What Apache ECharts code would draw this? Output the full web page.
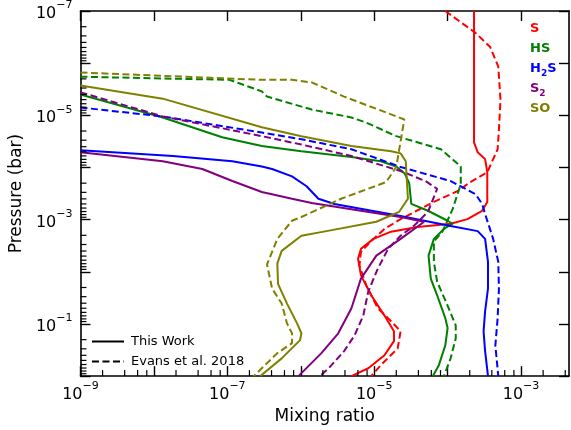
<!DOCTYPE html>
<html>
<head>
<meta charset="utf-8">
<script src="https://cdn.jsdelivr.net/npm/echarts@6/dist/echarts.min.js"></script>
<style>
  html, body { margin: 0; padding: 0; background: #fff; }
  #chart { width: 571px; height: 430px; }
</style>
</head>
<body>
<div id="chart"></div>
<script>
// profiles as [mixing ratio, pressure (bar)]
var sThisWork = [[2.29e-4,1e-7],[2.29e-4,3.31e-5],[2.57e-4,5.13e-5],[3.24e-4,6.92e-5],[3.47e-4,1.23e-4],[3.47e-4,4.57e-4],[2.95e-4,6.76e-4],[1.86e-4,9.77e-4],[1.10e-4,1.20e-3],[3.89e-5,1.38e-3],[1.70e-5,1.70e-3],[9.77e-6,2.34e-3],[6.61e-6,3.63e-3],[6.03e-6,5.62e-3],[6.61e-6,1.17e-2],[9.12e-6,2.82e-2],[1.38e-5,6.92e-2],[1.86e-5,0.138],[1.86e-5,0.214],[1.38e-5,0.398],[8.32e-6,0.708],[4.90e-6,1]];
var sEvans = [[9.3e-5,1e-7],[2.4e-4,2.63e-7],[3.8e-4,4.9e-7],[4.9e-4,1.17e-6],[5.25e-4,5.0e-6],[5.0e-4,1.86e-5],[4.8e-4,4.47e-5],[3.47e-4,1.23e-4],[2.04e-4,1.91e-4],[1.38e-4,2.82e-4],[6.5e-5,4.57e-4],[2.29e-5,9.77e-4],[1.38e-5,1.51e-3],[9.1e-6,2.57e-3],[6.6e-6,4.17e-3],[6.3e-6,7.6e-3],[7.8e-6,1.82e-2],[1.12e-5,5.0e-2],[1.7e-5,8.9e-2],[2.29e-5,0.138],[2.09e-5,0.295],[1.23e-5,0.617],[9.1e-6,1]];

var hsThisWork = [[1e-9,3.98e-6],[1.32e-8,1.1e-5],[8.5e-8,2.63e-5],[2.95e-7,3.89e-5],[1.02e-6,4.9e-5],[4.9e-6,6.31e-5],[1.23e-5,7.59e-5],[2.0e-5,9.55e-5],[2.6e-5,1.3e-4],[3.0e-5,2.0e-4],[3.2e-5,5.0e-4],[5.4e-5,6.76e-4],[1.0e-4,1.05e-3],[1.17e-4,1.2e-3],[8.9e-5,1.51e-3],[6.5e-5,2.34e-3],[5.5e-5,4.9e-3],[5.9e-5,1.35e-2],[7.2e-5,2.82e-2],[9.3e-5,7.76e-2],[1.0e-4,0.12],[9.3e-5,0.257],[7.6e-5,0.617],[6.3e-5,1]];
var hsEvans = [[1e-9,1.82e-6],[1.07e-7,2.09e-6],[2.95e-7,3.47e-6],[3.47e-7,4.37e-6],[1.41e-6,7.76e-6],[4.9e-6,1.1e-5],[7.8e-6,1.38e-5],[2.0e-5,2.51e-5],[8.1e-5,4.47e-5],[1.51e-4,9.55e-5],[1.51e-4,2.09e-4],[1.17e-4,6.31e-4],[8.5e-5,1.7e-3],[6.5e-5,2.63e-3],[6.5e-5,6.46e-3],[7.2e-5,1.55e-2],[1.0e-4,4.47e-2],[1.29e-4,0.107],[1.29e-4,0.191],[1.1e-4,0.457],[8.9e-5,1]];

var h2sThisWork = [[1e-9,4.68e-5],[1.82e-8,6.03e-5],[1.17e-7,7.59e-5],[2.95e-7,9.55e-5],[4.07e-7,1.07e-4],[7.6e-7,1.48e-4],[1.2e-6,2.29e-4],[1.74e-6,3.98e-4],[2.88e-6,5.0e-4],[2.29e-5,8.5e-4],[1.1e-4,1.32e-3],[2.57e-4,1.66e-3],[3.24e-4,2.34e-3],[3.55e-4,6.46e-3],[3.55e-4,2.09e-2],[3.24e-4,5.75e-2],[3.09e-4,0.138],[3.24e-4,0.331],[3.55e-4,1]];
var h2sEvans = [[1e-9,7.08e-6],[1.32e-8,1.05e-5],[2.95e-7,2.14e-5],[1.02e-6,2.88e-5],[4.9e-6,4.47e-5],[2.29e-5,9.77e-5],[1.1e-4,1.82e-4],[2.4e-4,3.24e-4],[2.95e-4,5.0e-4],[3.24e-4,7.76e-4],[4.17e-4,2.34e-3],[4.9e-4,6.46e-3],[5.0e-4,2.09e-2],[4.8e-4,7.76e-2],[4.47e-4,0.257],[4.9e-4,1]];

var s2ThisWork = [[1e-9,5.13e-5],[1.32e-8,7.59e-5],[4.57e-8,1.07e-4],[1.17e-7,1.82e-4],[2.95e-7,2.95e-4],[7.6e-7,3.98e-4],[1.41e-6,4.79e-4],[4.9e-6,6.31e-4],[2.29e-5,8.9e-4],[4.79e-5,1.1e-3],[2.29e-5,2.34e-3],[1.07e-5,4.9e-3],[6.6e-6,1.35e-2],[4.9e-6,5.0e-2],[3.24e-6,0.151],[1.91e-6,0.363],[9.3e-7,1]];
var s2Evans = [[1e-9,3.63e-6],[1.32e-8,1.05e-5],[2.95e-7,2.51e-5],[1.02e-6,3.63e-5],[4.9e-6,6.03e-5],[2.29e-5,1.17e-4],[5.0e-5,1.82e-4],[7.2e-5,2.57e-4],[5.4e-5,7.08e-4],[3.47e-5,1.32e-3],[2.29e-5,2.04e-3],[1.55e-5,3.63e-3],[1.12e-5,8.7e-3],[8.3e-6,2.4e-2],[7.1e-6,6.92e-2],[5.4e-6,0.166],[3.9e-6,0.331],[2.4e-6,0.708],[1.82e-6,1]];

var soThisWork = [[1e-9,2.69e-6],[1.32e-8,4.79e-6],[2.95e-7,1.7e-5],[1.02e-6,2.51e-5],[4.9e-6,3.89e-5],[1.7e-5,4.9e-5],[2.29e-5,5.37e-5],[2.69e-5,7.59e-5],[2.88e-5,3.98e-4],[2.19e-5,7.08e-4],[1.07e-5,1.1e-3],[2.24e-6,1.66e-3],[1.02e-6,2.04e-3],[5.5e-7,3.98e-3],[4.8e-7,6.92e-3],[4.9e-7,1.7e-2],[6.5e-7,4.07e-2],[8.9e-7,9.77e-2],[1.02e-6,0.151],[9.8e-7,0.204],[5.5e-7,0.457],[2.82e-7,1]];
var soEvans = [[1e-9,1.51e-6],[2.95e-7,2.09e-6],[7.6e-7,2.09e-6],[1.41e-6,2.34e-6],[3.89e-6,4.37e-6],[2.57e-5,1.2e-5],[2.29e-5,3.16e-5],[2.0e-5,9.77e-5],[1.45e-5,1.91e-4],[3.55e-6,3.98e-4],[1.02e-6,8.9e-4],[7.6e-7,1.05e-3],[4.8e-7,2.34e-3],[3.47e-7,7.24e-3],[4.07e-7,2.09e-2],[5.5e-7,4.07e-2],[6.5e-7,9.77e-2],[7.6e-7,0.151],[7.6e-7,0.234],[4.8e-7,0.363],[2.29e-7,1]];

var speciesNames = ['S', 'HS', 'H2S', 'S2', 'SO'];
var speciesLabels = ['{n|S}', '{n|HS}', '{n|H}{d|2}{n|S}', '{n|S}{d|2}', '{n|SO}'];
var thisWork = [sThisWork, hsThisWork, h2sThisWork, s2ThisWork, soThisWork];
var evans = [sEvans, hsEvans, h2sEvans, s2Evans, soEvans];
var colors = ['#ff0000', '#008000', '#0000ff', '#800080', '#808000'];

var xMin = 1e-9, xMax = 4.5e-3;
var yMin = 1e-7, yMax = 1;
var xMajor = [1e-9, 1e-8, 1e-7, 1e-6, 1e-5, 1e-4, 1e-3];
var xLabels = [1e-9, 1e-7, 1e-5, 1e-3];
var yMajor = [1e-7, 1e-6, 1e-5, 1e-4, 1e-3, 1e-2, 1e-1, 1];
var yLabels = [1e-7, 1e-5, 1e-3, 1e-1];
var xMinorSubs = [2, 4, 6, 8];
var yMinorSubs = [2, 3, 4, 5, 6, 7, 8, 9];

var FONT = 'DejaVu Sans';
var MINOR_LEN = 6;

function minorTicks(majors, subs, max) {
    var out = [];
    majors.forEach(function (m) {
        subs.forEach(function (s) {
            var v = m * s;
            if (v < max) out.push(v);
        });
    });
    return out;
}

function powLabel(v) {
    var e = Math.round(Math.log10(v));
    return '{b|10}{s|' + (e < 0 ? '\u2212' : '') + Math.abs(e) + '}';
}

var labelRich = {
    b: { fontSize: 16, fontFamily: FONT, color: '#000', lineHeight: 22, verticalAlign: 'bottom' },
    s: { fontSize: 11, fontFamily: FONT, color: '#000', lineHeight: 12, verticalAlign: 'top' }
};

function lineAx() {
    return { show: true, lineStyle: { color: '#000', width: 1.6 } };
}

function majorTick(values) {
    return { show: true, inside: true, length: 10, lineStyle: { color: '#000', width: 1.4 }, customValues: values };
}

var series = [];
speciesNames.forEach(function (name, i) {
    series.push({
        name: name,
        type: 'line',
        data: thisWork[i],
        symbol: 'none',
        lineStyle: { color: colors[i], width: 2 },
        itemStyle: { color: colors[i] }
    });
    series.push({
        name: name + ' Evans',
        type: 'line',
        data: evans[i],
        symbol: 'none',
        lineStyle: { color: colors[i], width: 2, type: [7, 3.5] },
        itemStyle: { color: colors[i] }
    });
});
// entries for the line-style key
series.push({
    name: 'This Work', type: 'line', data: [], symbol: 'none',
    lineStyle: { color: '#000', width: 2 }, itemStyle: { color: '#000' }
});
series.push({
    name: 'Evans et al. 2018', type: 'line', data: [], symbol: 'none',
    lineStyle: { color: '#000', width: 2, type: [7, 3.5] }, itemStyle: { color: '#000' }
});

var speciesText = speciesNames.map(function (name, i) {
    return {
        type: 'text',
        left: 530,
        top: 22 + i * 20,
        style: {
            text: speciesLabels[i],
            rich: {
                n: { fontFamily: FONT, fontSize: 13, fontWeight: 'bold', fill: colors[i], lineHeight: 16, verticalAlign: 'top' },
                d: { fontFamily: FONT, fontSize: 9, fontWeight: 'bold', fill: colors[i], lineHeight: 16, verticalAlign: 'bottom' }
            }
        }
    };
});

var option = {
    animation: false,
    backgroundColor: '#fff',
    grid: { left: 77, right: 2, top: 11, bottom: 52, containLabel: false },
    legend: {
        data: ['This Work', 'Evans et al. 2018'],
        orient: 'vertical',
        left: 86,
        top: 330,
        itemWidth: 32,
        itemHeight: 14,
        itemGap: 7,
        itemStyle: { opacity: 0 },
        textStyle: { fontFamily: FONT, fontSize: 13, color: '#000', padding: [0, 0, 0, 2] }
    },
    xAxis: [{
        type: 'log', logBase: 10, min: xMin, max: xMax, position: 'bottom',
        axisLine: lineAx(),
        axisTick: majorTick(xMajor),
        axisLabel: { customValues: xLabels, formatter: powLabel, rich: labelRich, margin: 5 },
        splitLine: { show: false },
        name: 'Mixing ratio', nameLocation: 'middle', nameGap: 27,
        nameTextStyle: { fontFamily: FONT, fontSize: 17, color: '#000' }
    }, {
        type: 'log', logBase: 10, min: xMin, max: xMax, position: 'top',
        axisLine: lineAx(), axisTick: majorTick(xMajor),
        axisLabel: { show: false }, splitLine: { show: false }
    }],
    yAxis: [{
        type: 'log', logBase: 10, min: yMin, max: yMax, inverse: true, position: 'left',
        axisLine: lineAx(),
        axisTick: majorTick(yMajor),
        axisLabel: { customValues: yLabels, formatter: powLabel, rich: labelRich, margin: 8 },
        splitLine: { show: false },
        name: 'Pressure (bar)', nameLocation: 'middle', nameGap: 52, nameRotate: 90,
        nameTextStyle: { fontFamily: FONT, fontSize: 17, color: '#000' }
    }, {
        type: 'log', logBase: 10, min: yMin, max: yMax, inverse: true, position: 'right',
        axisLine: lineAx(), axisTick: majorTick(yMajor),
        axisLabel: { show: false }, splitLine: { show: false }
    }],
    graphic: speciesText,
    series: series
};

var chart = echarts.init(document.getElementById('chart'));
chart.setOption(option);

// minor ticks: positions come from the chart's own log scales
var finder = { xAxisIndex: 0, yAxisIndex: 0 };
var tickEls = [];
minorTicks(xMajor, xMinorSubs, xMax).forEach(function (v) {
    var p = chart.convertToPixel(finder, [v, yMax]);
    tickEls.push({
        type: 'line', silent: true, z: 100,
        shape: { x1: p[0], y1: p[1], x2: p[0], y2: p[1] - MINOR_LEN },
        style: { stroke: '#000', lineWidth: 1.2 }
    });
});
minorTicks(yMajor, yMinorSubs, yMax).forEach(function (v) {
    var p = chart.convertToPixel(finder, [xMin, v]);
    tickEls.push({
        type: 'line', silent: true, z: 100,
        shape: { x1: p[0], y1: p[1], x2: p[0] + MINOR_LEN, y2: p[1] },
        style: { stroke: '#000', lineWidth: 1.2 }
    });
});
chart.setOption({ graphic: speciesText.concat(tickEls) });
</script>
</body>
</html>
